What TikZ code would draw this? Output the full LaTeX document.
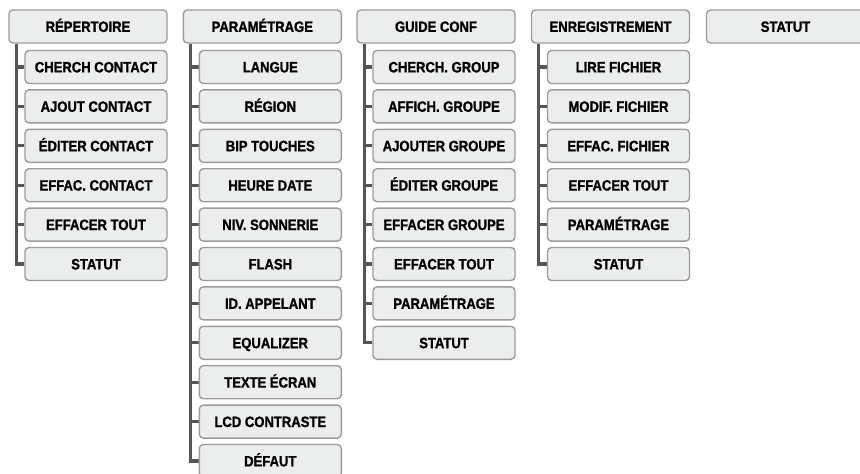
\documentclass[tikz,border=0pt]{standalone}
\usepackage{fontspec}
\setmainfont{Liberation Sans}[FakeStretch=0.87,BoldFeatures={FakeBold=1.2}]
\usetikzlibrary{backgrounds}
\definecolor{fondo}{HTML}{ECEDED}
\definecolor{borde}{HTML}{9B9B9B}
\definecolor{linea}{HTML}{555555}
\tikzset{
  caja/.style={draw=borde,fill=fondo,line width=1.4pt,rounded corners=4pt,minimum height=33pt,inner sep=0pt,
    text height=10.8pt,text depth=0pt,font=\fontsize{15}{17}\selectfont\bfseries},
  cabeza/.style={caja,minimum width=158pt},
  hijo/.style={caja,minimum width=142pt},
  tronco/.style={draw=linea,line width=3.2pt}
}
\begin{document}
\begin{tikzpicture}[x=1pt,y=-1pt]
  \useasboundingbox (0,0) rectangle (860,474);
  % Cabezas
  \node[cabeza] (rep) at (88,26.5) {RÉPERTOIRE};
  \node[cabeza] (par) at (262.3,26.5) {PARAMÉTRAGE};
  \node[cabeza] (gui) at (436,26.5) {GUIDE CONF};
  \node[cabeza] (enr) at (610.5,26.5) {ENREGISTREMENT};
  \node[cabeza] (sta) at (785.5,26.5) {STATUT};
  % Hijos
  \foreach \t [count=\i] in {CHERCH CONTACT,AJOUT CONTACT,ÉDITER CONTACT,EFFAC. CONTACT,EFFACER TOUT,STATUT}
    \node[hijo] (rep-\i) at (96,{67+(\i-1)*39.4}) {\t};
  \foreach \t [count=\i] in {LANGUE,RÉGION,BIP TOUCHES,HEURE DATE,NIV. SONNERIE,FLASH,ID. APPELANT,EQUALIZER,TEXTE ÉCRAN,LCD CONTRASTE,DÉFAUT}
    \node[hijo] (par-\i) at (270.3,{67+(\i-1)*39.4}) {\t};
  \foreach \t [count=\i] in {CHERCH. GROUP,AFFICH. GROUPE,AJOUTER GROUPE,ÉDITER GROUPE,EFFACER GROUPE,EFFACER TOUT,PARAMÉTRAGE,STATUT}
    \node[hijo] (gui-\i) at (444,{67+(\i-1)*39.4}) {\t};
  \foreach \t [count=\i] in {LIRE FICHIER,MODIF. FICHIER,EFFAC. FICHIER,EFFACER TOUT,PARAMÉTRAGE,STATUT}
    \node[hijo] (enr-\i) at (618.5,{67+(\i-1)*39.4}) {\t};
  % Troncos
  \begin{pgfonlayer}{background}
    \foreach \c/\n in {rep/6,par/11,gui/8,enr/6}{
      \draw[tronco] ([xshift=8pt]\c.south west) |- (\c-\n.west);
      \foreach \i in {1,...,\n}
        \draw[tronco] ([xshift=8pt]\c.south west |- \c-\i.west) -- (\c-\i.west);
    }
  \end{pgfonlayer}
\end{tikzpicture}
\end{document}
